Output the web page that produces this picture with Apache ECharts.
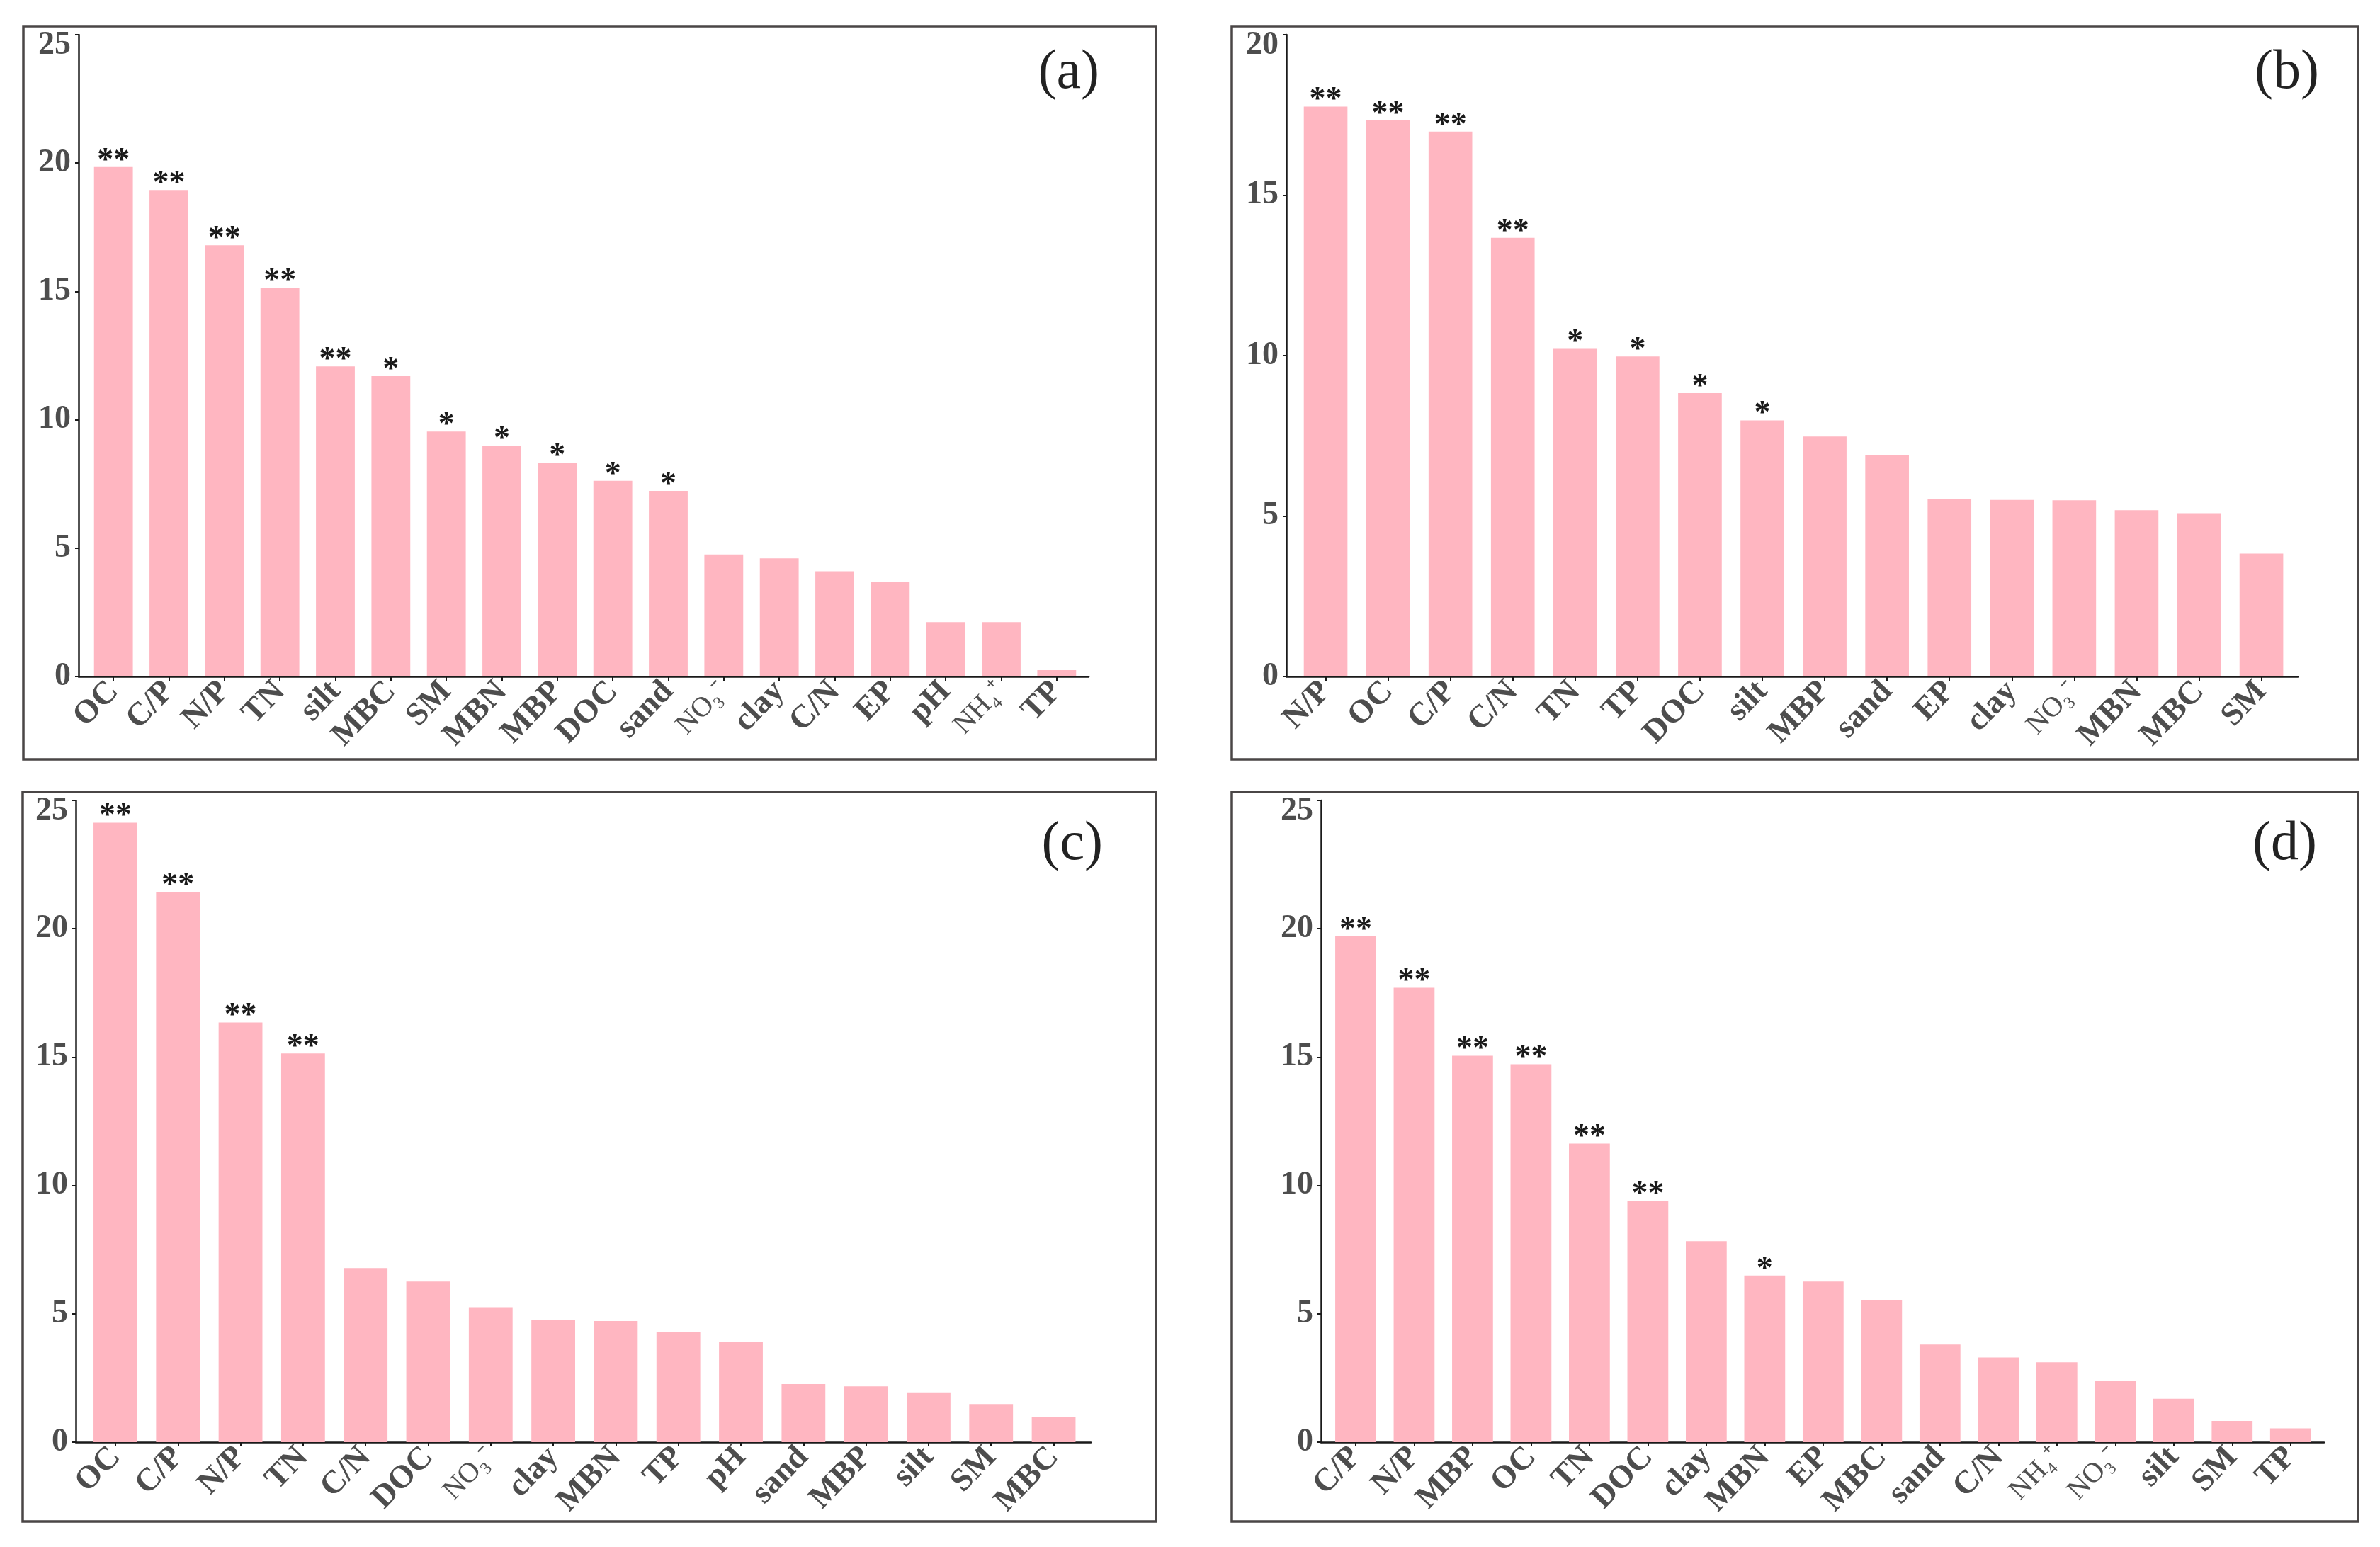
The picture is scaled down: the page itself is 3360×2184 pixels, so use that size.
<!DOCTYPE html>
<html>
<head>
<meta charset="utf-8">
<script src="https://cdn.jsdelivr.net/npm/echarts@6/dist/echarts.min.js"></script>
<style>
html,body{margin:0;padding:0;background:#fff;}
#c{width:3360px;height:2184px;}
</style>
</head>
<body>
<div id="c"></div>
<script>
// ---------------- data ----------------
const catsA = ['OC','C/P','N/P','TN','silt','MBC','SM','MBN','MBP','DOC','sand','NO₃⁻','clay','C/N','EP','pH','NH₄⁺','TP'];
const valsA = [19.85,18.95,16.8,15.15,12.08,11.7,9.54,8.98,8.33,7.62,7.23,4.75,4.6,4.1,3.67,2.12,2.12,0.25];
const sigA  = ['**','**','**','**','**','*','*','*','*','*','*','','','','','','',''];

const catsB = ['N/P','OC','C/P','C/N','TN','TP','DOC','silt','MBP','sand','EP','clay','NO₃⁻','MBN','MBC','SM'];
const valsB = [17.76,17.33,16.98,13.67,10.21,9.97,8.83,7.98,7.48,6.89,5.52,5.5,5.49,5.18,5.09,3.83];
const sigB  = ['**','**','**','**','*','*','*','*','','','','','','','',''];

const catsC = ['OC','C/P','N/P','TN','C/N','DOC','NO₃⁻','clay','MBN','TP','pH','sand','MBP','silt','SM','MBC'];
const valsC = [24.13,21.44,16.35,15.14,6.78,6.26,5.26,4.76,4.72,4.3,3.9,2.26,2.17,1.94,1.48,0.98];
const sigC  = ['**','**','**','**','','','','','','','','','','','',''];

const catsD = ['C/P','N/P','MBP','OC','TN','DOC','clay','MBN','EP','MBC','sand','C/N','NH₄⁺','NO₃⁻','silt','SM','TP'];
const valsD = [19.71,17.7,15.05,14.72,11.63,9.4,7.83,6.49,6.26,5.53,3.8,3.3,3.11,2.38,1.69,0.83,0.54];
const sigD  = ['**','**','**','**','**','**','','*','','','','','','','','',''];

const yMaxList = [25,20,25,25];
const panelNames = ['(a)','(b)','(c)','(d)'];

// ---------------- layout ----------------
const panels = [
  {cats:catsA, vals:valsA, sig:sigA, yMax:yMaxList[0], name:panelNames[0],
   axL:111, axR:1537, top:49, bot:955, bandL:121, bandR:1531,
   frame:[33,37,1632,1072], lab:[1552,104]},
  {cats:catsB, vals:valsB, sig:sigB, yMax:yMaxList[1], name:panelNames[1],
   axL:1816, axR:3244, top:49, bot:955, bandL:1827.5, bandR:3236.6,
   frame:[1739,37,3329,1072], lab:[3274,104]},
  {cats:catsC, vals:valsC, sig:sigC, yMax:yMaxList[2], name:panelNames[2],
   axL:107, axR:1540, top:1130, bot:2036, bandL:118.8, bandR:1531.7,
   frame:[32,1118,1632,2148], lab:[1557,1193]},
  {cats:catsD, vals:valsD, sig:sigD, yMax:yMaxList[3], name:panelNames[3],
   axL:1865, axR:3281, top:1130, bot:2036, bandL:1872.7, bandR:3275,
   frame:[1739,1118,3329,2148], lab:[3271,1193]}
];

const FONT = '"Liberation Serif","Times New Roman",serif';
const grids = [], xAxes = [], yAxes = [], series = [], graphics = [];

panels.forEach((p, i) => {
  const ga = grids.length;
  grids.push({left:p.axL, top:p.top, width:p.axR - p.axL, height:p.bot - p.top, containLabel:false});
  const gb = grids.length;
  grids.push({left:p.bandL, top:p.top, width:p.bandR - p.bandL, height:p.bot - p.top, containLabel:false});

  // axis-line grid
  xAxes.push({gridIndex:ga, type:'value', min:0, max:1,
    axisLine:{show:true, onZero:false, lineStyle:{color:'#1a1a1a', width:2.5}},
    axisTick:{show:false}, axisLabel:{show:false}, splitLine:{show:false}});
  yAxes.push({gridIndex:ga, type:'value', min:0, max:p.yMax, interval:5,
    axisLine:{show:true, lineStyle:{color:'#1a1a1a', width:2.5}},
    axisTick:{show:true, length:5, lineStyle:{color:'#1a1a1a', width:2}},
    axisLabel:{show:true, margin:11, color:'#4d4d4d', fontFamily:FONT, fontWeight:'bold', fontSize:46,
      formatter: v => v === p.yMax ? '{t|' + v + '}' : String(v),
      rich:{t:{fontFamily:FONT, fontWeight:'bold', fontSize:46, color:'#4d4d4d', padding:[30,0,0,0]}}},
    splitLine:{show:false}});

  // bar grid
  const xb = xAxes.length;
  xAxes.push({gridIndex:gb, type:'category', data:p.cats, boundaryGap:true,
    axisLine:{show:false},
    axisTick:{show:true, alignWithLabel:true, length:6, lineStyle:{color:'#1a1a1a', width:2}},
    axisLabel:{show:true, interval:0, rotate:46, margin:14, color:'#4d4d4d',
      fontFamily:FONT, fontWeight:'bold', fontSize:46,
      formatter: v => (v.indexOf('₃') >= 0 || v.indexOf('₄') >= 0) ? '{s|' + v + '}' : v,
      rich:{s:{fontFamily:FONT, fontWeight:'normal', fontSize:40, color:'#505050'}}},
    splitLine:{show:false}});
  const yb = yAxes.length;
  yAxes.push({gridIndex:gb, type:'value', min:0, max:p.yMax, interval:5, show:false});

  series.push({type:'bar', xAxisIndex:xb, yAxisIndex:yb, data:p.vals, barWidth:'70%',
    itemStyle:{color:'#FFB6C1'},
    label:{show:true, position:'top', distance:-15, color:'#1a1a1a', fontFamily:FONT,
      fontWeight:'bold', fontSize:46, formatter: prm => p.sig[prm.dataIndex]},
    silent:true, animation:false});

  const f = p.frame;
  graphics.push({type:'rect', shape:{x:f[0], y:f[1], width:f[2]-f[0], height:f[3]-f[1]},
    style:{fill:'none', stroke:'#4a4646', lineWidth:3.5}, z:10});
  graphics.push({type:'text', x:p.lab[0], y:p.lab[1],
    style:{text:p.name, font:'78px ' + FONT, fill:'#222', textAlign:'right', textVerticalAlign:'middle'}, z:10});
});

const chart = echarts.init(document.getElementById('c'), null, {renderer:'canvas', width:3360, height:2184});
chart.setOption({
  animation:false,
  backgroundColor:'#fff',
  grid:grids, xAxis:xAxes, yAxis:yAxes, series:series, graphic:graphics
});
</script>
</body>
</html>
